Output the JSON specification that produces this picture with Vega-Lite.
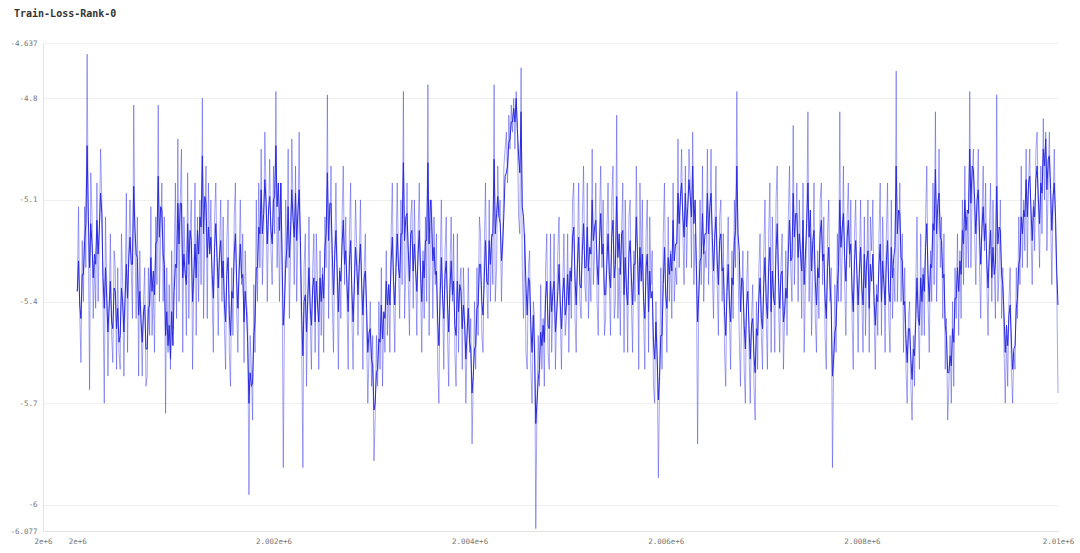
{
"$schema": "https://vega.github.io/schema/vega-lite/v6.json",
"width": 1015,
"height": 488,
"autosize": {"type": "none"},
"padding": {"left": 43, "top": 43, "right": 22, "bottom": 22},
"background": "white",
"title": {"text": "Train-Loss-Rank-0", "anchor": "start", "frame": "group", "dx": -29, "offset": 20, "font": "DejaVu Sans Mono", "fontSize": 10, "fontWeight": "bold", "color": "#333333"},
"config": {"view": {"stroke": null}},
"data": {"values": [
{"step":2000000,"raw":-5.37,"ema":-5.37},{"step":2000012,"raw":-5.12,"ema":-5.28},{"step":2000025,"raw":-5.44,"ema":-5.41},{"step":2000037,"raw":-5.58,"ema":-5.45},{"step":2000050,"raw":-5.22,"ema":-5.32},{"step":2000062,"raw":-5.4,"ema":-5.32},{"step":2000075,"raw":-5.12,"ema":-5.22},{"step":2000087,"raw":-5.3,"ema":-5.17},{"step":2000100,"raw":-4.67,"ema":-4.94},{"step":2000112,"raw":-5.2,"ema":-5.15},
{"step":2000125,"raw":-5.66,"ema":-5.3},{"step":2000137,"raw":-5.02,"ema":-5.17},{"step":2000150,"raw":-5.15,"ema":-5.23},{"step":2000162,"raw":-5.45,"ema":-5.33},{"step":2000175,"raw":-5.28,"ema":-5.26},{"step":2000187,"raw":-5.42,"ema":-5.29},{"step":2000200,"raw":-5.05,"ema":-5.16},{"step":2000212,"raw":-5.4,"ema":-5.26},{"step":2000225,"raw":-5.2,"ema":-5.18},{"step":2000237,"raw":-4.95,"ema":-5.08},
{"step":2000250,"raw":-5.1,"ema":-5.14},{"step":2000262,"raw":-5.4,"ema":-5.33},{"step":2000275,"raw":-5.7,"ema":-5.42},{"step":2000287,"raw":-5.15,"ema":-5.3},{"step":2000300,"raw":-5.35,"ema":-5.39},{"step":2000312,"raw":-5.62,"ema":-5.49},{"step":2000325,"raw":-5.42,"ema":-5.41},{"step":2000337,"raw":-5.2,"ema":-5.34},{"step":2000350,"raw":-5.5,"ema":-5.46},{"step":2000362,"raw":-5.58,"ema":-5.48},
{"step":2000375,"raw":-5.25,"ema":-5.36},{"step":2000387,"raw":-5.3,"ema":-5.37},{"step":2000400,"raw":-5.6,"ema":-5.48},{"step":2000412,"raw":-5.3,"ema":-5.42},{"step":2000425,"raw":-5.55,"ema":-5.52},{"step":2000437,"raw":-5.6,"ema":-5.5},{"step":2000450,"raw":-5.2,"ema":-5.36},{"step":2000462,"raw":-5.35,"ema":-5.4},{"step":2000475,"raw":-5.62,"ema":-5.49},{"step":2000487,"raw":-5.4,"ema":-5.39},
{"step":2000500,"raw":-5.08,"ema":-5.29},{"step":2000512,"raw":-5.55,"ema":-5.39},{"step":2000525,"raw":-5.25,"ema":-5.27},{"step":2000537,"raw":-5.1,"ema":-5.21},{"step":2000550,"raw":-5.3,"ema":-5.29},{"step":2000562,"raw":-5.45,"ema":-5.29},{"step":2000575,"raw":-4.82,"ema":-5.06},{"step":2000587,"raw":-5.2,"ema":-5.18},{"step":2000600,"raw":-5.45,"ema":-5.26},{"step":2000612,"raw":-5.15,"ema":-5.27},
{"step":2000625,"raw":-5.62,"ema":-5.44},{"step":2000637,"raw":-5.25,"ema":-5.37},{"step":2000650,"raw":-5.48,"ema":-5.46},{"step":2000662,"raw":-5.62,"ema":-5.52},{"step":2000675,"raw":-5.4,"ema":-5.43},{"step":2000687,"raw":-5.3,"ema":-5.41},{"step":2000700,"raw":-5.65,"ema":-5.54},{"step":2000712,"raw":-5.62,"ema":-5.54},{"step":2000725,"raw":-5.3,"ema":-5.42},{"step":2000737,"raw":-5.5,"ema":-5.41},
{"step":2000750,"raw":-5.12,"ema":-5.27},{"step":2000762,"raw":-5.5,"ema":-5.37},{"step":2000775,"raw":-5.35,"ema":-5.31},{"step":2000787,"raw":-5.55,"ema":-5.38},{"step":2000800,"raw":-5.15,"ema":-5.23},{"step":2000812,"raw":-5.35,"ema":-5.22},{"step":2000825,"raw":-4.82,"ema":-5.03},{"step":2000837,"raw":-5.4,"ema":-5.21},{"step":2000850,"raw":-5.2,"ema":-5.12},{"step":2000862,"raw":-5.05,"ema":-5.13},
{"step":2000875,"raw":-5.4,"ema":-5.26},{"step":2000887,"raw":-5.15,"ema":-5.29},{"step":2000900,"raw":-5.73,"ema":-5.5},{"step":2000912,"raw":-5.3,"ema":-5.43},{"step":2000925,"raw":-5.55,"ema":-5.53},{"step":2000937,"raw":-5.35,"ema":-5.47},{"step":2000950,"raw":-5.6,"ema":-5.57},{"step":2000962,"raw":-5.25,"ema":-5.43},{"step":2000975,"raw":-5.48,"ema":-5.53},{"step":2000987,"raw":-5.3,"ema":-5.37},
{"step":2001000,"raw":-5.05,"ema":-5.29},{"step":2001012,"raw":-5.45,"ema":-5.3},{"step":2001025,"raw":-4.92,"ema":-5.11},{"step":2001037,"raw":-5.4,"ema":-5.23},{"step":2001050,"raw":-5.1,"ema":-5.11},{"step":2001062,"raw":-4.95,"ema":-5.11},{"step":2001075,"raw":-5.55,"ema":-5.33},{"step":2001087,"raw":-5.15,"ema":-5.26},{"step":2001100,"raw":-5.3,"ema":-5.32},{"step":2001112,"raw":-5.5,"ema":-5.35},
{"step":2001125,"raw":-5.02,"ema":-5.17},{"step":2001137,"raw":-5.45,"ema":-5.29},{"step":2001150,"raw":-5.2,"ema":-5.19},{"step":2001162,"raw":-5.1,"ema":-5.22},{"step":2001175,"raw":-5.6,"ema":-5.4},{"step":2001187,"raw":-5.35,"ema":-5.33},{"step":2001200,"raw":-5.05,"ema":-5.23},{"step":2001212,"raw":-5.5,"ema":-5.33},{"step":2001225,"raw":-5.15,"ema":-5.19},{"step":2001237,"raw":-5.4,"ema":-5.26},
{"step":2001250,"raw":-5.1,"ema":-5.15},{"step":2001262,"raw":-5.35,"ema":-5.18},{"step":2001275,"raw":-4.8,"ema":-4.97},{"step":2001287,"raw":-5.45,"ema":-5.2},{"step":2001300,"raw":-5.2,"ema":-5.09},{"step":2001312,"raw":-5,"ema":-5.11},{"step":2001325,"raw":-5.45,"ema":-5.27},{"step":2001337,"raw":-5.05,"ema":-5.18},{"step":2001350,"raw":-5.25,"ema":-5.26},{"step":2001362,"raw":-5.1,"ema":-5.21},
{"step":2001375,"raw":-5.38,"ema":-5.32},{"step":2001387,"raw":-5.55,"ema":-5.39},{"step":2001400,"raw":-5.15,"ema":-5.24},{"step":2001412,"raw":-5.05,"ema":-5.17},{"step":2001425,"raw":-5.3,"ema":-5.27},{"step":2001437,"raw":-5.5,"ema":-5.36},{"step":2001450,"raw":-5.25,"ema":-5.26},{"step":2001462,"raw":-5.1,"ema":-5.22},{"step":2001475,"raw":-5.4,"ema":-5.33},{"step":2001487,"raw":-5.15,"ema":-5.28},
{"step":2001500,"raw":-5.48,"ema":-5.41},{"step":2001512,"raw":-5.6,"ema":-5.46},{"step":2001525,"raw":-5.22,"ema":-5.32},{"step":2001537,"raw":-5.1,"ema":-5.27},{"step":2001550,"raw":-5.55,"ema":-5.44},{"step":2001562,"raw":-5.65,"ema":-5.5},{"step":2001575,"raw":-5.3,"ema":-5.37},{"step":2001587,"raw":-5.5,"ema":-5.39},{"step":2001600,"raw":-5.15,"ema":-5.26},{"step":2001612,"raw":-5.05,"ema":-5.2},
{"step":2001625,"raw":-5.42,"ema":-5.34},{"step":2001637,"raw":-5.55,"ema":-5.42},{"step":2001650,"raw":-5.28,"ema":-5.31},{"step":2001662,"raw":-5.1,"ema":-5.23},{"step":2001675,"raw":-5.35,"ema":-5.33},{"step":2001687,"raw":-5.2,"ema":-5.32},{"step":2001700,"raw":-5.58,"ema":-5.46},{"step":2001712,"raw":-5.25,"ema":-5.37},{"step":2001725,"raw":-5.4,"ema":-5.43},{"step":2001737,"raw":-5.45,"ema":-5.52},
{"step":2001750,"raw":-5.97,"ema":-5.7},{"step":2001762,"raw":-5.5,"ema":-5.61},{"step":2001775,"raw":-5.6,"ema":-5.65},{"step":2001787,"raw":-5.75,"ema":-5.64},{"step":2001800,"raw":-5.35,"ema":-5.5},{"step":2001812,"raw":-5.55,"ema":-5.46},{"step":2001825,"raw":-5.1,"ema":-5.3},{"step":2001837,"raw":-5.4,"ema":-5.3},{"step":2001850,"raw":-5.05,"ema":-5.18},{"step":2001862,"raw":-5.3,"ema":-5.2},
{"step":2001875,"raw":-4.95,"ema":-5.07},{"step":2001887,"raw":-5.35,"ema":-5.2},{"step":2001900,"raw":-5.2,"ema":-5.14},{"step":2001912,"raw":-4.9,"ema":-5.04},{"step":2001925,"raw":-5.08,"ema":-5.11},{"step":2001937,"raw":-5.4,"ema":-5.23},{"step":2001950,"raw":-5.15,"ema":-5.13},{"step":2001962,"raw":-4.98,"ema":-5.09},{"step":2001975,"raw":-5.25,"ema":-5.19},{"step":2001987,"raw":-5.35,"ema":-5.23},
{"step":2002000,"raw":-5,"ema":-5.1},{"step":2002012,"raw":-5.2,"ema":-5.09},{"step":2002025,"raw":-4.78,"ema":-4.94},{"step":2002037,"raw":-5.3,"ema":-5.12},{"step":2002050,"raw":-5.15,"ema":-5.05},{"step":2002062,"raw":-5.4,"ema":-5.19},{"step":2002075,"raw":-5.05,"ema":-5.05},{"step":2002087,"raw":-5.25,"ema":-5.26},{"step":2002100,"raw":-5.89,"ema":-5.47},{"step":2002112,"raw":-5.45,"ema":-5.41},
{"step":2002125,"raw":-5.1,"ema":-5.29},{"step":2002137,"raw":-5.3,"ema":-5.24},{"step":2002150,"raw":-4.95,"ema":-5.12},{"step":2002162,"raw":-5.45,"ema":-5.27},{"step":2002175,"raw":-5.25,"ema":-5.19},{"step":2002187,"raw":-4.92,"ema":-5.07},{"step":2002200,"raw":-5.12,"ema":-5.16},{"step":2002212,"raw":-5.35,"ema":-5.21},{"step":2002225,"raw":-5,"ema":-5.08},{"step":2002237,"raw":-5.4,"ema":-5.22},
{"step":2002250,"raw":-5.18,"ema":-5.13},{"step":2002262,"raw":-4.9,"ema":-5.07},{"step":2002275,"raw":-5.3,"ema":-5.22},{"step":2002287,"raw":-5.5,"ema":-5.43},{"step":2002300,"raw":-5.89,"ema":-5.56},{"step":2002312,"raw":-5.3,"ema":-5.4},{"step":2002325,"raw":-5.2,"ema":-5.38},{"step":2002337,"raw":-5.65,"ema":-5.49},{"step":2002350,"raw":-5.4,"ema":-5.39},{"step":2002362,"raw":-5.15,"ema":-5.3},
{"step":2002375,"raw":-5.45,"ema":-5.42},{"step":2002387,"raw":-5.6,"ema":-5.47},{"step":2002400,"raw":-5.3,"ema":-5.36},{"step":2002412,"raw":-5.2,"ema":-5.33},{"step":2002425,"raw":-5.55,"ema":-5.46},{"step":2002437,"raw":-5.2,"ema":-5.34},{"step":2002450,"raw":-5.35,"ema":-5.41},{"step":2002462,"raw":-5.6,"ema":-5.46},{"step":2002475,"raw":-5.25,"ema":-5.33},{"step":2002487,"raw":-5.5,"ema":-5.4},
{"step":2002500,"raw":-5.3,"ema":-5.32},{"step":2002512,"raw":-5.55,"ema":-5.39},{"step":2002525,"raw":-5.15,"ema":-5.24},{"step":2002537,"raw":-5.3,"ema":-5.2},{"step":2002550,"raw":-4.79,"ema":-5.02},{"step":2002562,"raw":-5.45,"ema":-5.22},{"step":2002575,"raw":-5.2,"ema":-5.11},{"step":2002587,"raw":-5,"ema":-5.11},{"step":2002600,"raw":-5.4,"ema":-5.26},{"step":2002612,"raw":-5.55,"ema":-5.38},
{"step":2002625,"raw":-5.25,"ema":-5.26},{"step":2002637,"raw":-5.05,"ema":-5.19},{"step":2002650,"raw":-5.35,"ema":-5.31},{"step":2002662,"raw":-5.6,"ema":-5.43},{"step":2002675,"raw":-5.3,"ema":-5.31},{"step":2002687,"raw":-5.45,"ema":-5.34},{"step":2002700,"raw":-5.15,"ema":-5.23},{"step":2002712,"raw":-5,"ema":-5.16},{"step":2002725,"raw":-5.35,"ema":-5.29},{"step":2002737,"raw":-5.15,"ema":-5.25},
{"step":2002750,"raw":-5.4,"ema":-5.35},{"step":2002762,"raw":-5.6,"ema":-5.43},{"step":2002775,"raw":-5.2,"ema":-5.28},{"step":2002787,"raw":-5.05,"ema":-5.22},{"step":2002800,"raw":-5.45,"ema":-5.37},{"step":2002812,"raw":-5.6,"ema":-5.46},{"step":2002825,"raw":-5.32,"ema":-5.35},{"step":2002837,"raw":-5.1,"ema":-5.24},{"step":2002850,"raw":-5.25,"ema":-5.3},{"step":2002862,"raw":-5.5,"ema":-5.38},
{"step":2002875,"raw":-5.28,"ema":-5.29},{"step":2002887,"raw":-5.1,"ema":-5.23},{"step":2002900,"raw":-5.4,"ema":-5.35},{"step":2002912,"raw":-5.6,"ema":-5.44},{"step":2002925,"raw":-5.3,"ema":-5.33},{"step":2002937,"raw":-5.2,"ema":-5.31},{"step":2002950,"raw":-5.5,"ema":-5.42},{"step":2002962,"raw":-5.7,"ema":-5.55},{"step":2002975,"raw":-5.55,"ema":-5.49},{"step":2002987,"raw":-5.4,"ema":-5.48},
{"step":2003000,"raw":-5.65,"ema":-5.57},{"step":2003012,"raw":-5.5,"ema":-5.59},{"step":2003025,"raw":-5.87,"ema":-5.72},{"step":2003037,"raw":-5.75,"ema":-5.7},{"step":2003050,"raw":-5.5,"ema":-5.61},{"step":2003062,"raw":-5.65,"ema":-5.6},{"step":2003075,"raw":-5.4,"ema":-5.51},{"step":2003087,"raw":-5.6,"ema":-5.52},{"step":2003100,"raw":-5.3,"ema":-5.41},{"step":2003112,"raw":-5.65,"ema":-5.51},
{"step":2003125,"raw":-5.45,"ema":-5.43},{"step":2003137,"raw":-5.55,"ema":-5.45},{"step":2003150,"raw":-5.25,"ema":-5.34},{"step":2003162,"raw":-5.5,"ema":-5.41},{"step":2003175,"raw":-5.35,"ema":-5.35},{"step":2003187,"raw":-5.55,"ema":-5.41},{"step":2003200,"raw":-5.2,"ema":-5.28},{"step":2003212,"raw":-5.05,"ema":-5.21},{"step":2003225,"raw":-5.4,"ema":-5.34},{"step":2003237,"raw":-5.55,"ema":-5.41},
{"step":2003250,"raw":-5.25,"ema":-5.3},{"step":2003262,"raw":-5.05,"ema":-5.2},{"step":2003275,"raw":-5.3,"ema":-5.3},{"step":2003287,"raw":-5.45,"ema":-5.33},{"step":2003300,"raw":-5.1,"ema":-5.2},{"step":2003312,"raw":-5.35,"ema":-5.2},{"step":2003325,"raw":-4.78,"ema":-4.99},{"step":2003337,"raw":-5.45,"ema":-5.22},{"step":2003350,"raw":-5.3,"ema":-5.15},{"step":2003362,"raw":-5.05,"ema":-5.14},
{"step":2003375,"raw":-5.35,"ema":-5.25},{"step":2003387,"raw":-5.5,"ema":-5.34},{"step":2003400,"raw":-5.15,"ema":-5.2},{"step":2003412,"raw":-5.1,"ema":-5.19},{"step":2003425,"raw":-5.42,"ema":-5.31},{"step":2003437,"raw":-5.1,"ema":-5.23},{"step":2003450,"raw":-5.3,"ema":-5.31},{"step":2003462,"raw":-5.5,"ema":-5.37},{"step":2003475,"raw":-5.2,"ema":-5.26},{"step":2003487,"raw":-5.05,"ema":-5.19},
{"step":2003500,"raw":-5.35,"ema":-5.31},{"step":2003512,"raw":-5.55,"ema":-5.4},{"step":2003525,"raw":-5.25,"ema":-5.28},{"step":2003537,"raw":-5.45,"ema":-5.33},{"step":2003550,"raw":-5.15,"ema":-5.22},{"step":2003562,"raw":-5.4,"ema":-5.22},{"step":2003575,"raw":-4.76,"ema":-4.99},{"step":2003587,"raw":-5.5,"ema":-5.23},{"step":2003600,"raw":-5.2,"ema":-5.1},{"step":2003612,"raw":-5.1,"ema":-5.15},
{"step":2003625,"raw":-5.45,"ema":-5.28},{"step":2003637,"raw":-5.15,"ema":-5.24},{"step":2003650,"raw":-5.35,"ema":-5.32},{"step":2003662,"raw":-5.2,"ema":-5.31},{"step":2003675,"raw":-5.6,"ema":-5.46},{"step":2003687,"raw":-5.7,"ema":-5.53},{"step":2003700,"raw":-5.3,"ema":-5.38},{"step":2003712,"raw":-5.1,"ema":-5.27},{"step":2003725,"raw":-5.4,"ema":-5.39},{"step":2003737,"raw":-5.6,"ema":-5.45},
{"step":2003750,"raw":-5.25,"ema":-5.32},{"step":2003762,"raw":-5.15,"ema":-5.28},{"step":2003775,"raw":-5.5,"ema":-5.41},{"step":2003787,"raw":-5.65,"ema":-5.49},{"step":2003800,"raw":-5.3,"ema":-5.36},{"step":2003812,"raw":-5.15,"ema":-5.28},{"step":2003825,"raw":-5.4,"ema":-5.38},{"step":2003837,"raw":-5.2,"ema":-5.34},{"step":2003850,"raw":-5.55,"ema":-5.47},{"step":2003862,"raw":-5.65,"ema":-5.5},
{"step":2003875,"raw":-5.2,"ema":-5.34},{"step":2003887,"raw":-5.55,"ema":-5.43},{"step":2003900,"raw":-5.35,"ema":-5.35},{"step":2003912,"raw":-5.3,"ema":-5.37},{"step":2003925,"raw":-5.6,"ema":-5.48},{"step":2003937,"raw":-5.3,"ema":-5.41},{"step":2003950,"raw":-5.45,"ema":-5.47},{"step":2003962,"raw":-5.7,"ema":-5.57},{"step":2003975,"raw":-5.5,"ema":-5.49},{"step":2003987,"raw":-5.3,"ema":-5.42},
{"step":2004000,"raw":-5.55,"ema":-5.52},{"step":2004012,"raw":-5.45,"ema":-5.54},{"step":2004025,"raw":-5.82,"ema":-5.67},{"step":2004037,"raw":-5.65,"ema":-5.62},{"step":2004050,"raw":-5.4,"ema":-5.54},{"step":2004062,"raw":-5.6,"ema":-5.53},{"step":2004075,"raw":-5.3,"ema":-5.42},{"step":2004087,"raw":-5.5,"ema":-5.41},{"step":2004100,"raw":-5.15,"ema":-5.29},{"step":2004112,"raw":-5.2,"ema":-5.29},
{"step":2004125,"raw":-5.5,"ema":-5.4},{"step":2004137,"raw":-5.55,"ema":-5.44},{"step":2004150,"raw":-5.25,"ema":-5.33},{"step":2004162,"raw":-5.05,"ema":-5.22},{"step":2004175,"raw":-5.35,"ema":-5.34},{"step":2004187,"raw":-5.45,"ema":-5.35},{"step":2004200,"raw":-5.1,"ema":-5.22},{"step":2004212,"raw":-5.4,"ema":-5.29},{"step":2004225,"raw":-5.2,"ema":-5.21},{"step":2004237,"raw":-5.35,"ema":-5.2},
{"step":2004250,"raw":-4.76,"ema":-4.98},{"step":2004262,"raw":-5.4,"ema":-5.2},{"step":2004275,"raw":-5.3,"ema":-5.14},{"step":2004287,"raw":-5,"ema":-5.09},{"step":2004300,"raw":-5.15,"ema":-5.15},{"step":2004312,"raw":-5.1,"ema":-5.17},{"step":2004325,"raw":-5.4,"ema":-5.28},{"step":2004337,"raw":-5.25,"ema":-5.23},{"step":2004350,"raw":-5,"ema":-5.14},{"step":2004362,"raw":-4.95,"ema":-5.03},
{"step":2004375,"raw":-4.9,"ema":-5.02},{"step":2004387,"raw":-5.05,"ema":-5},{"step":2004400,"raw":-4.85,"ema":-4.93},{"step":2004412,"raw":-4.95,"ema":-4.92},{"step":2004425,"raw":-4.82,"ema":-4.87},{"step":2004437,"raw":-4.9,"ema":-4.87},{"step":2004450,"raw":-4.8,"ema":-4.83},{"step":2004462,"raw":-4.95,"ema":-4.87},{"step":2004475,"raw":-4.78,"ema":-4.8},{"step":2004487,"raw":-4.9,"ema":-4.89},
{"step":2004500,"raw":-5.15,"ema":-4.97},{"step":2004512,"raw":-5.2,"ema":-5.02},{"step":2004525,"raw":-4.71,"ema":-4.84},{"step":2004537,"raw":-5.3,"ema":-5.12},{"step":2004550,"raw":-5.45,"ema":-5.15},{"step":2004562,"raw":-5.2,"ema":-5.23},{"step":2004575,"raw":-5.55,"ema":-5.35},{"step":2004587,"raw":-5.6,"ema":-5.44},{"step":2004600,"raw":-5.3,"ema":-5.33},{"step":2004612,"raw":-5.25,"ema":-5.34},
{"step":2004625,"raw":-5.6,"ema":-5.47},{"step":2004637,"raw":-5.7,"ema":-5.55},{"step":2004650,"raw":-5.4,"ema":-5.44},{"step":2004662,"raw":-5.45,"ema":-5.54},{"step":2004675,"raw":-6.07,"ema":-5.76},{"step":2004687,"raw":-5.7,"ema":-5.7},{"step":2004700,"raw":-5.5,"ema":-5.63},{"step":2004712,"raw":-5.65,"ema":-5.6},{"step":2004725,"raw":-5.35,"ema":-5.49},{"step":2004737,"raw":-5.6,"ema":-5.53},
{"step":2004750,"raw":-5.45,"ema":-5.47},{"step":2004762,"raw":-5.65,"ema":-5.52},{"step":2004775,"raw":-5.3,"ema":-5.39},{"step":2004787,"raw":-5.2,"ema":-5.34},{"step":2004800,"raw":-5.55,"ema":-5.47},{"step":2004812,"raw":-5.6,"ema":-5.48},{"step":2004825,"raw":-5.2,"ema":-5.34},{"step":2004837,"raw":-5.55,"ema":-5.43},{"step":2004850,"raw":-5.4,"ema":-5.37},{"step":2004862,"raw":-5.2,"ema":-5.34},
{"step":2004875,"raw":-5.6,"ema":-5.49},{"step":2004887,"raw":-5.45,"ema":-5.44},{"step":2004900,"raw":-5.25,"ema":-5.37},{"step":2004912,"raw":-5.15,"ema":-5.29},{"step":2004925,"raw":-5.45,"ema":-5.41},{"step":2004937,"raw":-5.6,"ema":-5.48},{"step":2004950,"raw":-5.35,"ema":-5.38},{"step":2004962,"raw":-5.2,"ema":-5.33},{"step":2004975,"raw":-5.5,"ema":-5.44},{"step":2004987,"raw":-5.45,"ema":-5.41},
{"step":2005000,"raw":-5.2,"ema":-5.32},{"step":2005012,"raw":-5.55,"ema":-5.41},{"step":2005025,"raw":-5.3,"ema":-5.31},{"step":2005037,"raw":-5.45,"ema":-5.34},{"step":2005050,"raw":-5.1,"ema":-5.21},{"step":2005062,"raw":-5.05,"ema":-5.18},{"step":2005075,"raw":-5.45,"ema":-5.33},{"step":2005087,"raw":-5.55,"ema":-5.41},{"step":2005100,"raw":-5.25,"ema":-5.29},{"step":2005112,"raw":-5.05,"ema":-5.21},
{"step":2005125,"raw":-5.4,"ema":-5.35},{"step":2005137,"raw":-5.45,"ema":-5.36},{"step":2005150,"raw":-5.15,"ema":-5.25},{"step":2005162,"raw":-5,"ema":-5.17},{"step":2005175,"raw":-5.35,"ema":-5.3},{"step":2005187,"raw":-5.4,"ema":-5.3},{"step":2005200,"raw":-5.05,"ema":-5.18},{"step":2005212,"raw":-5.45,"ema":-5.31},{"step":2005225,"raw":-5.3,"ema":-5.24},{"step":2005237,"raw":-5.4,"ema":-5.26},
{"step":2005250,"raw":-4.95,"ema":-5.1},{"step":2005262,"raw":-5.35,"ema":-5.22},{"step":2005275,"raw":-5.25,"ema":-5.18},{"step":2005287,"raw":-5.05,"ema":-5.16},{"step":2005300,"raw":-5.4,"ema":-5.29},{"step":2005312,"raw":-5.5,"ema":-5.35},{"step":2005325,"raw":-5.15,"ema":-5.22},{"step":2005337,"raw":-5,"ema":-5.14},{"step":2005350,"raw":-5.3,"ema":-5.26},{"step":2005362,"raw":-5.1,"ema":-5.23},
{"step":2005375,"raw":-5.5,"ema":-5.38},{"step":2005387,"raw":-5.45,"ema":-5.38},{"step":2005400,"raw":-5.2,"ema":-5.29},{"step":2005412,"raw":-5.05,"ema":-5.2},{"step":2005425,"raw":-5.35,"ema":-5.32},{"step":2005437,"raw":-5.5,"ema":-5.36},{"step":2005450,"raw":-5.1,"ema":-5.21},{"step":2005462,"raw":-5,"ema":-5.16},{"step":2005475,"raw":-5.45,"ema":-5.33},{"step":2005487,"raw":-5.4,"ema":-5.29},
{"step":2005500,"raw":-4.85,"ema":-5.09},{"step":2005512,"raw":-5.45,"ema":-5.27},{"step":2005525,"raw":-5.3,"ema":-5.2},{"step":2005537,"raw":-5.5,"ema":-5.32},{"step":2005550,"raw":-5.2,"ema":-5.2},{"step":2005562,"raw":-5.05,"ema":-5.19},{"step":2005575,"raw":-5.55,"ema":-5.38},{"step":2005587,"raw":-5.1,"ema":-5.27},{"step":2005600,"raw":-5.35,"ema":-5.37},{"step":2005612,"raw":-5.55,"ema":-5.41},
{"step":2005625,"raw":-5.15,"ema":-5.26},{"step":2005637,"raw":-5.1,"ema":-5.22},{"step":2005650,"raw":-5.4,"ema":-5.33},{"step":2005662,"raw":-5.55,"ema":-5.41},{"step":2005675,"raw":-5.25,"ema":-5.29},{"step":2005687,"raw":-5.4,"ema":-5.29},{"step":2005700,"raw":-5,"ema":-5.15},{"step":2005712,"raw":-5.25,"ema":-5.26},{"step":2005725,"raw":-5.6,"ema":-5.38},{"step":2005737,"raw":-5.05,"ema":-5.24},
{"step":2005750,"raw":-5.3,"ema":-5.34},{"step":2005762,"raw":-5.1,"ema":-5.26},{"step":2005775,"raw":-5.45,"ema":-5.4},{"step":2005787,"raw":-5.6,"ema":-5.45},{"step":2005800,"raw":-5.2,"ema":-5.3},{"step":2005812,"raw":-5.1,"ema":-5.26},{"step":2005825,"raw":-5.55,"ema":-5.43},{"step":2005837,"raw":-5.15,"ema":-5.31},{"step":2005850,"raw":-5.35,"ema":-5.39},{"step":2005862,"raw":-5.25,"ema":-5.37},
{"step":2005875,"raw":-5.65,"ema":-5.52},{"step":2005887,"raw":-5.7,"ema":-5.57},{"step":2005900,"raw":-5.4,"ema":-5.46},{"step":2005912,"raw":-5.55,"ema":-5.56},{"step":2005925,"raw":-5.92,"ema":-5.69},{"step":2005937,"raw":-5.65,"ema":-5.62},{"step":2005950,"raw":-5.3,"ema":-5.5},{"step":2005962,"raw":-5.6,"ema":-5.5},{"step":2005975,"raw":-5.2,"ema":-5.35},{"step":2005987,"raw":-5.05,"ema":-5.24},
{"step":2006000,"raw":-5.4,"ema":-5.38},{"step":2006012,"raw":-5.55,"ema":-5.42},{"step":2006025,"raw":-5.15,"ema":-5.27},{"step":2006037,"raw":-5.4,"ema":-5.32},{"step":2006050,"raw":-5.25,"ema":-5.26},{"step":2006062,"raw":-5.45,"ema":-5.31},{"step":2006075,"raw":-5.05,"ema":-5.16},{"step":2006087,"raw":-5.4,"ema":-5.28},{"step":2006100,"raw":-5.3,"ema":-5.23},{"step":2006112,"raw":-5.35,"ema":-5.23},
{"step":2006125,"raw":-4.92,"ema":-5.08},{"step":2006137,"raw":-5.3,"ema":-5.17},{"step":2006150,"raw":-5.1,"ema":-5.09},{"step":2006162,"raw":-4.95,"ema":-5.05},{"step":2006175,"raw":-5.2,"ema":-5.15},{"step":2006187,"raw":-5.35,"ema":-5.21},{"step":2006200,"raw":-5,"ema":-5.08},{"step":2006212,"raw":-5.3,"ema":-5.18},{"step":2006225,"raw":-5.15,"ema":-5.12},{"step":2006237,"raw":-4.95,"ema":-5.04},
{"step":2006250,"raw":-5.05,"ema":-5.09},{"step":2006262,"raw":-5.3,"ema":-5.15},{"step":2006275,"raw":-4.9,"ema":-5},{"step":2006287,"raw":-5.35,"ema":-5.17},{"step":2006300,"raw":-5.2,"ema":-5.1},{"step":2006312,"raw":-5.3,"ema":-5.29},{"step":2006325,"raw":-5.82,"ema":-5.46},{"step":2006337,"raw":-5.4,"ema":-5.38},{"step":2006350,"raw":-5.1,"ema":-5.28},{"step":2006362,"raw":-5.35,"ema":-5.27},
{"step":2006375,"raw":-5,"ema":-5.14},{"step":2006387,"raw":-5.4,"ema":-5.26},{"step":2006400,"raw":-5.25,"ema":-5.2},{"step":2006412,"raw":-5.3,"ema":-5.2},{"step":2006425,"raw":-4.95,"ema":-5.08},{"step":2006437,"raw":-5.35,"ema":-5.2},{"step":2006450,"raw":-5.15,"ema":-5.12},{"step":2006462,"raw":-4.95,"ema":-5.08},{"step":2006475,"raw":-5.3,"ema":-5.21},{"step":2006487,"raw":-5.45,"ema":-5.31},
{"step":2006500,"raw":-5.2,"ema":-5.21},{"step":2006512,"raw":-5,"ema":-5.15},{"step":2006525,"raw":-5.35,"ema":-5.28},{"step":2006537,"raw":-5.5,"ema":-5.35},{"step":2006550,"raw":-5.15,"ema":-5.22},{"step":2006562,"raw":-5.1,"ema":-5.2},{"step":2006575,"raw":-5.4,"ema":-5.31},{"step":2006587,"raw":-5.2,"ema":-5.3},{"step":2006600,"raw":-5.55,"ema":-5.43},{"step":2006612,"raw":-5.65,"ema":-5.5},
{"step":2006625,"raw":-5.3,"ema":-5.37},{"step":2006637,"raw":-5.15,"ema":-5.29},{"step":2006650,"raw":-5.45,"ema":-5.41},{"step":2006662,"raw":-5.6,"ema":-5.46},{"step":2006675,"raw":-5.25,"ema":-5.33},{"step":2006687,"raw":-5.45,"ema":-5.35},{"step":2006700,"raw":-5.1,"ema":-5.22},{"step":2006712,"raw":-5.3,"ema":-5.19},{"step":2006725,"raw":-4.78,"ema":-5},{"step":2006737,"raw":-5.3,"ema":-5.2},
{"step":2006750,"raw":-5.5,"ema":-5.25},{"step":2006762,"raw":-5.65,"ema":-5.43},{"step":2006775,"raw":-5.4,"ema":-5.33},{"step":2006787,"raw":-5.25,"ema":-5.34},{"step":2006800,"raw":-5.6,"ema":-5.47},{"step":2006812,"raw":-5.7,"ema":-5.54},{"step":2006825,"raw":-5.35,"ema":-5.41},{"step":2006837,"raw":-5.25,"ema":-5.37},{"step":2006850,"raw":-5.55,"ema":-5.48},{"step":2006862,"raw":-5.7,"ema":-5.57},
{"step":2006875,"raw":-5.45,"ema":-5.47},{"step":2006887,"raw":-5.35,"ema":-5.45},{"step":2006900,"raw":-5.65,"ema":-5.56},{"step":2006912,"raw":-5.75,"ema":-5.61},{"step":2006925,"raw":-5.4,"ema":-5.48},{"step":2006937,"raw":-5.6,"ema":-5.5},{"step":2006950,"raw":-5.3,"ema":-5.39},{"step":2006962,"raw":-5.2,"ema":-5.33},{"step":2006975,"raw":-5.5,"ema":-5.45},{"step":2006987,"raw":-5.6,"ema":-5.48},
{"step":2007000,"raw":-5.25,"ema":-5.35},{"step":2007012,"raw":-5.1,"ema":-5.27},{"step":2007025,"raw":-5.45,"ema":-5.4},{"step":2007037,"raw":-5.6,"ema":-5.45},{"step":2007050,"raw":-5.2,"ema":-5.3},{"step":2007062,"raw":-5.05,"ema":-5.24},{"step":2007075,"raw":-5.55,"ema":-5.43},{"step":2007087,"raw":-5.15,"ema":-5.31},{"step":2007100,"raw":-5.35,"ema":-5.39},{"step":2007112,"raw":-5.55,"ema":-5.41},
{"step":2007125,"raw":-5.1,"ema":-5.25},{"step":2007137,"raw":-5,"ema":-5.17},{"step":2007150,"raw":-5.4,"ema":-5.33},{"step":2007162,"raw":-5.55,"ema":-5.42},{"step":2007175,"raw":-5.3,"ema":-5.32},{"step":2007187,"raw":-5.2,"ema":-5.31},{"step":2007200,"raw":-5.6,"ema":-5.46},{"step":2007212,"raw":-5.45,"ema":-5.43},{"step":2007225,"raw":-5.25,"ema":-5.36},{"step":2007237,"raw":-5.5,"ema":-5.39},
{"step":2007250,"raw":-5.15,"ema":-5.26},{"step":2007262,"raw":-5,"ema":-5.16},{"step":2007275,"raw":-5.3,"ema":-5.28},{"step":2007287,"raw":-5.4,"ema":-5.27},{"step":2007300,"raw":-4.88,"ema":-5.08},{"step":2007312,"raw":-5.35,"ema":-5.21},{"step":2007325,"raw":-5.2,"ema":-5.14},{"step":2007337,"raw":-5.05,"ema":-5.14},{"step":2007350,"raw":-5.4,"ema":-5.27},{"step":2007362,"raw":-5.1,"ema":-5.2},
{"step":2007375,"raw":-5.25,"ema":-5.26},{"step":2007387,"raw":-5.45,"ema":-5.31},{"step":2007400,"raw":-5.05,"ema":-5.16},{"step":2007412,"raw":-5.55,"ema":-5.35},{"step":2007425,"raw":-5.35,"ema":-5.26},{"step":2007437,"raw":-5.2,"ema":-5.17},{"step":2007450,"raw":-4.84,"ema":-5.05},{"step":2007462,"raw":-5.4,"ema":-5.21},{"step":2007475,"raw":-5.2,"ema":-5.13},{"step":2007487,"raw":-5.5,"ema":-5.31},
{"step":2007500,"raw":-5.3,"ema":-5.22},{"step":2007512,"raw":-5.05,"ema":-5.19},{"step":2007525,"raw":-5.45,"ema":-5.34},{"step":2007537,"raw":-5.55,"ema":-5.41},{"step":2007550,"raw":-5.25,"ema":-5.3},{"step":2007562,"raw":-5.45,"ema":-5.33},{"step":2007575,"raw":-5.1,"ema":-5.2},{"step":2007587,"raw":-5.05,"ema":-5.16},{"step":2007600,"raw":-5.35,"ema":-5.28},{"step":2007612,"raw":-5.15,"ema":-5.26},
{"step":2007625,"raw":-5.5,"ema":-5.39},{"step":2007637,"raw":-5.6,"ema":-5.45},{"step":2007650,"raw":-5.2,"ema":-5.3},{"step":2007662,"raw":-5.1,"ema":-5.24},{"step":2007675,"raw":-5.4,"ema":-5.35},{"step":2007687,"raw":-5.3,"ema":-5.41},{"step":2007700,"raw":-5.89,"ema":-5.62},{"step":2007712,"raw":-5.6,"ema":-5.57},{"step":2007725,"raw":-5.35,"ema":-5.49},{"step":2007737,"raw":-5.55,"ema":-5.47},
{"step":2007750,"raw":-5.2,"ema":-5.35},{"step":2007762,"raw":-5.4,"ema":-5.3},{"step":2007775,"raw":-4.84,"ema":-5.1},{"step":2007787,"raw":-5.4,"ema":-5.24},{"step":2007800,"raw":-5.25,"ema":-5.18},{"step":2007812,"raw":-5,"ema":-5.14},{"step":2007825,"raw":-5.35,"ema":-5.27},{"step":2007837,"raw":-5.5,"ema":-5.34},{"step":2007850,"raw":-5.15,"ema":-5.21},{"step":2007862,"raw":-5.05,"ema":-5.16},
{"step":2007875,"raw":-5.3,"ema":-5.26},{"step":2007887,"raw":-5.1,"ema":-5.23},{"step":2007900,"raw":-5.45,"ema":-5.36},{"step":2007912,"raw":-5.6,"ema":-5.43},{"step":2007925,"raw":-5.2,"ema":-5.28},{"step":2007937,"raw":-5.1,"ema":-5.22},{"step":2007950,"raw":-5.35,"ema":-5.32},{"step":2007962,"raw":-5.55,"ema":-5.41},{"step":2007975,"raw":-5.3,"ema":-5.31},{"step":2007987,"raw":-5.1,"ema":-5.24},
{"step":2008000,"raw":-5.4,"ema":-5.36},{"step":2008012,"raw":-5.55,"ema":-5.41},{"step":2008025,"raw":-5.15,"ema":-5.26},{"step":2008037,"raw":-5.5,"ema":-5.36},{"step":2008050,"raw":-5.3,"ema":-5.28},{"step":2008062,"raw":-5.1,"ema":-5.25},{"step":2008075,"raw":-5.55,"ema":-5.42},{"step":2008087,"raw":-5.15,"ema":-5.29},{"step":2008100,"raw":-5.25,"ema":-5.34},{"step":2008112,"raw":-5.1,"ema":-5.26},
{"step":2008125,"raw":-5.45,"ema":-5.4},{"step":2008137,"raw":-5.6,"ema":-5.47},{"step":2008150,"raw":-5.35,"ema":-5.38},{"step":2008162,"raw":-5.5,"ema":-5.4},{"step":2008175,"raw":-5.2,"ema":-5.29},{"step":2008187,"raw":-5.05,"ema":-5.23},{"step":2008200,"raw":-5.5,"ema":-5.4},{"step":2008212,"raw":-5.15,"ema":-5.28},{"step":2008225,"raw":-5.3,"ema":-5.35},{"step":2008237,"raw":-5.55,"ema":-5.41},
{"step":2008250,"raw":-5.2,"ema":-5.28},{"step":2008262,"raw":-5.05,"ema":-5.22},{"step":2008275,"raw":-5.45,"ema":-5.37},{"step":2008287,"raw":-5.55,"ema":-5.4},{"step":2008300,"raw":-5.1,"ema":-5.24},{"step":2008312,"raw":-5.45,"ema":-5.33},{"step":2008325,"raw":-5.3,"ema":-5.27},{"step":2008337,"raw":-5.4,"ema":-5.24},{"step":2008350,"raw":-4.72,"ema":-5},{"step":2008362,"raw":-5.4,"ema":-5.2},
{"step":2008375,"raw":-5.25,"ema":-5.13},{"step":2008387,"raw":-5.05,"ema":-5.14},{"step":2008400,"raw":-5.4,"ema":-5.27},{"step":2008412,"raw":-5.2,"ema":-5.28},{"step":2008425,"raw":-5.55,"ema":-5.41},{"step":2008437,"raw":-5.3,"ema":-5.4},{"step":2008450,"raw":-5.6,"ema":-5.51},{"step":2008462,"raw":-5.7,"ema":-5.58},{"step":2008475,"raw":-5.45,"ema":-5.48},{"step":2008487,"raw":-5.4,"ema":-5.48},
{"step":2008500,"raw":-5.65,"ema":-5.57},{"step":2008512,"raw":-5.75,"ema":-5.63},{"step":2008525,"raw":-5.5,"ema":-5.54},{"step":2008537,"raw":-5.65,"ema":-5.56},{"step":2008550,"raw":-5.35,"ema":-5.45},{"step":2008562,"raw":-5.15,"ema":-5.33},{"step":2008575,"raw":-5.45,"ema":-5.45},{"step":2008587,"raw":-5.6,"ema":-5.47},{"step":2008600,"raw":-5.2,"ema":-5.33},{"step":2008612,"raw":-5.5,"ema":-5.4},
{"step":2008625,"raw":-5.3,"ema":-5.32},{"step":2008637,"raw":-5.5,"ema":-5.37},{"step":2008650,"raw":-5.15,"ema":-5.24},{"step":2008662,"raw":-5,"ema":-5.17},{"step":2008675,"raw":-5.4,"ema":-5.32},{"step":2008687,"raw":-5.55,"ema":-5.4},{"step":2008700,"raw":-5.25,"ema":-5.29},{"step":2008712,"raw":-5.4,"ema":-5.3},{"step":2008725,"raw":-5.05,"ema":-5.17},{"step":2008737,"raw":-5.35,"ema":-5.19},
{"step":2008750,"raw":-4.84,"ema":-5.01},{"step":2008762,"raw":-5.4,"ema":-5.2},{"step":2008775,"raw":-5.2,"ema":-5.11},{"step":2008787,"raw":-4.95,"ema":-5.08},{"step":2008800,"raw":-5.3,"ema":-5.21},{"step":2008812,"raw":-5.15,"ema":-5.22},{"step":2008825,"raw":-5.45,"ema":-5.33},{"step":2008837,"raw":-5.2,"ema":-5.32},{"step":2008850,"raw":-5.6,"ema":-5.47},{"step":2008862,"raw":-5.45,"ema":-5.5},
{"step":2008875,"raw":-5.75,"ema":-5.61},{"step":2008887,"raw":-5.65,"ema":-5.61},{"step":2008900,"raw":-5.5,"ema":-5.56},{"step":2008912,"raw":-5.7,"ema":-5.59},{"step":2008925,"raw":-5.4,"ema":-5.48},{"step":2008937,"raw":-5.65,"ema":-5.52},{"step":2008950,"raw":-5.3,"ema":-5.39},{"step":2008962,"raw":-5.45,"ema":-5.39},{"step":2008975,"raw":-5.2,"ema":-5.3},{"step":2008987,"raw":-5.5,"ema":-5.37},
{"step":2009000,"raw":-5.25,"ema":-5.28},{"step":2009012,"raw":-5.45,"ema":-5.32},{"step":2009025,"raw":-5.1,"ema":-5.19},{"step":2009037,"raw":-5.35,"ema":-5.23},{"step":2009050,"raw":-5,"ema":-5.1},{"step":2009062,"raw":-5.3,"ema":-5.19},{"step":2009075,"raw":-5.15,"ema":-5.13},{"step":2009087,"raw":-5.3,"ema":-5.14},{"step":2009100,"raw":-4.78,"ema":-4.95},{"step":2009112,"raw":-5.3,"ema":-5.11},
{"step":2009125,"raw":-5.05,"ema":-5},{"step":2009137,"raw":-4.95,"ema":-5.01},{"step":2009150,"raw":-5.2,"ema":-5.1},{"step":2009162,"raw":-5.35,"ema":-5.2},{"step":2009175,"raw":-5.1,"ema":-5.1},{"step":2009187,"raw":-4.95,"ema":-5.07},{"step":2009200,"raw":-5.3,"ema":-5.2},{"step":2009212,"raw":-5.45,"ema":-5.29},{"step":2009225,"raw":-5.15,"ema":-5.18},{"step":2009237,"raw":-5,"ema":-5.12},
{"step":2009250,"raw":-5.25,"ema":-5.22},{"step":2009262,"raw":-5.05,"ema":-5.17},{"step":2009275,"raw":-5.35,"ema":-5.29},{"step":2009287,"raw":-5.5,"ema":-5.36},{"step":2009300,"raw":-5.2,"ema":-5.25},{"step":2009312,"raw":-5.05,"ema":-5.19},{"step":2009325,"raw":-5.4,"ema":-5.33},{"step":2009337,"raw":-5.1,"ema":-5.24},{"step":2009350,"raw":-5.3,"ema":-5.32},{"step":2009362,"raw":-5.45,"ema":-5.29},
{"step":2009375,"raw":-4.79,"ema":-5.06},{"step":2009387,"raw":-5.4,"ema":-5.23},{"step":2009400,"raw":-5.3,"ema":-5.18},{"step":2009412,"raw":-5.1,"ema":-5.19},{"step":2009425,"raw":-5.45,"ema":-5.32},{"step":2009437,"raw":-5.3,"ema":-5.35},{"step":2009450,"raw":-5.55,"ema":-5.44},{"step":2009462,"raw":-5.7,"ema":-5.55},{"step":2009475,"raw":-5.5,"ema":-5.47},{"step":2009487,"raw":-5.65,"ema":-5.53},
{"step":2009500,"raw":-5.4,"ema":-5.44},{"step":2009512,"raw":-5.3,"ema":-5.41},{"step":2009525,"raw":-5.6,"ema":-5.52},{"step":2009537,"raw":-5.7,"ema":-5.6},{"step":2009550,"raw":-5.55,"ema":-5.54},{"step":2009562,"raw":-5.6,"ema":-5.53},{"step":2009575,"raw":-5.3,"ema":-5.42},{"step":2009587,"raw":-5.45,"ema":-5.39},{"step":2009600,"raw":-5.15,"ema":-5.29},{"step":2009612,"raw":-5.35,"ema":-5.27},
{"step":2009625,"raw":-5,"ema":-5.15},{"step":2009637,"raw":-5.3,"ema":-5.2},{"step":2009650,"raw":-5.1,"ema":-5.13},{"step":2009662,"raw":-5.25,"ema":-5.15},{"step":2009675,"raw":-4.95,"ema":-5.04},{"step":2009687,"raw":-5.3,"ema":-5.15},{"step":2009700,"raw":-5.05,"ema":-5.05},{"step":2009712,"raw":-4.95,"ema":-5.03},{"step":2009725,"raw":-5.2,"ema":-5.13},{"step":2009737,"raw":-5.35,"ema":-5.22},
{"step":2009750,"raw":-5.1,"ema":-5.12},{"step":2009762,"raw":-5.25,"ema":-5.15},{"step":2009775,"raw":-4.95,"ema":-5.04},{"step":2009787,"raw":-4.9,"ema":-5},{"step":2009800,"raw":-5.15,"ema":-5.1},{"step":2009812,"raw":-5.3,"ema":-5.17},{"step":2009825,"raw":-5,"ema":-5.05},{"step":2009837,"raw":-5.2,"ema":-5.08},{"step":2009850,"raw":-4.86,"ema":-4.95},{"step":2009862,"raw":-5.1,"ema":-5},
{"step":2009875,"raw":-4.9,"ema":-4.92},{"step":2009887,"raw":-5.25,"ema":-5.07},{"step":2009900,"raw":-5.05,"ema":-4.98},{"step":2009912,"raw":-4.9,"ema":-4.97},{"step":2009925,"raw":-5.15,"ema":-5.07},{"step":2009937,"raw":-5.35,"ema":-5.19},{"step":2009950,"raw":-5.1,"ema":-5.09},{"step":2009962,"raw":-4.95,"ema":-5.05},{"step":2009975,"raw":-5.2,"ema":-5.15},{"step":2009987,"raw":-5.35,"ema":-5.31},
{"step":2010000,"raw":-5.67,"ema":-5.41}
]},
"encoding": {
  "x": {"field": "step", "type": "quantitative",
    "scale": {"domain": [1999650, 2010000], "nice": false, "zero": false},
    "axis": {"title": null, "values": [1999650, 2000000, 2002000, 2004000, 2006000, 2008000, 2010000],
      "labelExpr": "datum.value < 2000000 ? '2e+6' : format(datum.value, '.4~e')",
      "grid": false, "ticks": false, "domain": true, "domainColor": "#e3e3e3", "domainWidth": 1,
      "labelFont": "DejaVu Sans Mono", "labelFontSize": 7.5, "labelColor": "#777777", "labelPadding": 6,
      "labelFlush": false, "labelOverlap": false}}
},
"layer": [
  {"mark": {"type": "line", "stroke": "#3535e6", "strokeOpacity": 0.45, "strokeWidth": 1},
   "encoding": {"y": {"field": "raw", "type": "quantitative",
     "scale": {"domain": [-6.077, -4.637], "nice": false, "zero": false},
     "axis": {"title": null, "values": [-6.077, -6, -5.7, -5.4, -5.1, -4.8, -4.637],
       "labelExpr": "'' + datum.value", "grid": true, "gridColor": "#efefef", "gridWidth": 1,
       "ticks": false, "domain": true, "domainColor": "#e3e3e3",
       "labelFont": "DejaVu Sans Mono", "labelFontSize": 7.5, "labelColor": "#777777", "labelPadding": 6,
       "labelOverlap": false, "labelFlush": false}}}},
  {"mark": {"type": "line", "stroke": "#2a2ae0", "strokeWidth": 1},
   "encoding": {"y": {"field": "ema", "type": "quantitative",
     "scale": {"domain": [-6.077, -4.637], "nice": false, "zero": false},
     "axis": {"title": null, "values": [-6.077, -6, -5.7, -5.4, -5.1, -4.8, -4.637],
       "labelExpr": "'' + datum.value", "grid": true, "gridColor": "#efefef", "gridWidth": 1,
       "ticks": false, "domain": true, "domainColor": "#e3e3e3",
       "labelFont": "DejaVu Sans Mono", "labelFontSize": 7.5, "labelColor": "#777777", "labelPadding": 6,
       "labelOverlap": false, "labelFlush": false}}}}
]
}
